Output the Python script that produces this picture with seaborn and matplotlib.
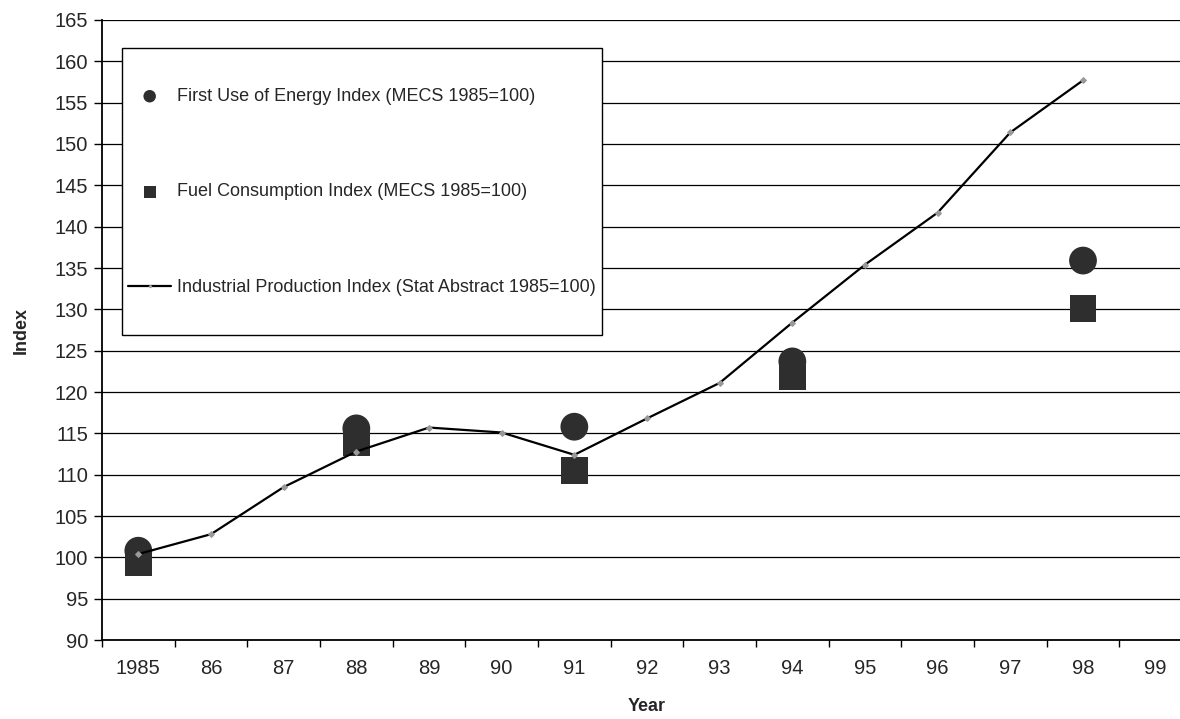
import numpy as np
import pandas as pd
import seaborn as sns
import matplotlib.pyplot as plt
from matplotlib.ticker import MultipleLocator, FixedLocator
from matplotlib.patches import Rectangle

# Datos
years = [1985, 1986, 1987, 1988, 1989, 1990, 1991, 1992, 1993, 1994, 1995, 1996, 1997, 1998]
tick_labels = ['1985', '86', '87', '88', '89', '90', '91', '92', '93', '94', '95', '96', '97', '98', '99']
industrial = [100.4, 102.8, 108.5, 112.8, 115.7, 115.1, 112.4, 116.8, 121.1, 128.4, 135.4, 141.7, 151.4, 157.7]

mecs_years = [1985, 1988, 1991, 1994, 1998]
first_use = [100.8, 115.6, 115.8, 123.7, 135.9]
fuel = [99.4, 113.9, 110.5, 121.8, 130.1]

lbl_first = 'First Use of Energy Index (MECS 1985=100)'
lbl_fuel = 'Fuel Consumption Index (MECS 1985=100)'
lbl_ind = 'Industrial Production Index (Stat Abstract 1985=100)'

sns.set_style('white')
plt.rcParams['font.family'] = ['Liberation Sans', 'DejaVu Sans']

fig = plt.figure(figsize=(11.8, 7.19), dpi=100)
ax = fig.add_axes([102 / 1180, 1 - 640 / 719, 1090 / 1180, 620 / 719])

df_ind = pd.DataFrame({'Year': years, 'Index': industrial})
df_first = pd.DataFrame({'Year': mecs_years, 'Index': first_use})
df_fuel = pd.DataFrame({'Year': mecs_years, 'Index': fuel})

sns.scatterplot(data=df_first, x='Year', y='Index', ax=ax, marker='o', s=400,
                color='#2e2e2e', edgecolor='none', label=lbl_first, zorder=3)
sns.scatterplot(data=df_fuel, x='Year', y='Index', ax=ax, marker='s', s=370,
                color='#2e2e2e', edgecolor='none', label=lbl_fuel, zorder=3)
sns.lineplot(data=df_ind, x='Year', y='Index', ax=ax, color='black', linewidth=1.6,
             marker='D', markersize=3, markerfacecolor='#999999', markeredgecolor='#999999',
             label=lbl_ind, zorder=4)

ax.set_xlim(1984.5, 1999.5)
ax.set_ylim(90, 165)
ax.yaxis.set_major_locator(MultipleLocator(5))
ax.grid(axis='y', color='black', linewidth=0.9)
ax.grid(axis='x', visible=False)
ax.set_axisbelow(True)

ax.xaxis.set_major_locator(FixedLocator(list(range(1985, 2000))))
ax.set_xticklabels(tick_labels)
ax.xaxis.set_minor_locator(FixedLocator([y + 0.5 for y in range(1984, 2000)]))
ax.tick_params(axis='x', which='major', length=0, pad=14, labelsize=14.5)
ax.tick_params(axis='x', which='minor', length=5, width=1, color='black', direction='out', bottom=True)
ax.tick_params(axis='y', which='major', length=6, width=1, color='black', direction='out',
               left=True, pad=4, labelsize=14.5)

for s in ['top', 'right']:
    ax.spines[s].set_visible(False)
for s in ['left', 'bottom']:
    ax.spines[s].set_color('black')
    ax.spines[s].set_linewidth(1.3)

ax.set_xlabel('Year', fontsize=13, fontweight='bold', labelpad=14)
ax.set_ylabel('Index', fontsize=13, fontweight='bold', labelpad=18)

# caja de la leyenda (mas alta que el contenido, como en el original)
box = Rectangle((122 / 1180, 1 - 335 / 719), 480 / 1180, 287 / 719, transform=fig.transFigure,
                facecolor='white', edgecolor='black', linewidth=1.0, zorder=5, clip_on=False)
ax.add_patch(box)

leg = ax.legend(loc='center left', bbox_to_anchor=(128 / 1180, 1 - 192 / 719),
                bbox_transform=fig.transFigure, frameon=False, fontsize=13,
                labelspacing=4.35, borderpad=0, borderaxespad=0, handlelength=2.4,
                handletextpad=0.3, markerscale=0.45)
leg.set_zorder(6)

fig.savefig('out.png', dpi=100)
